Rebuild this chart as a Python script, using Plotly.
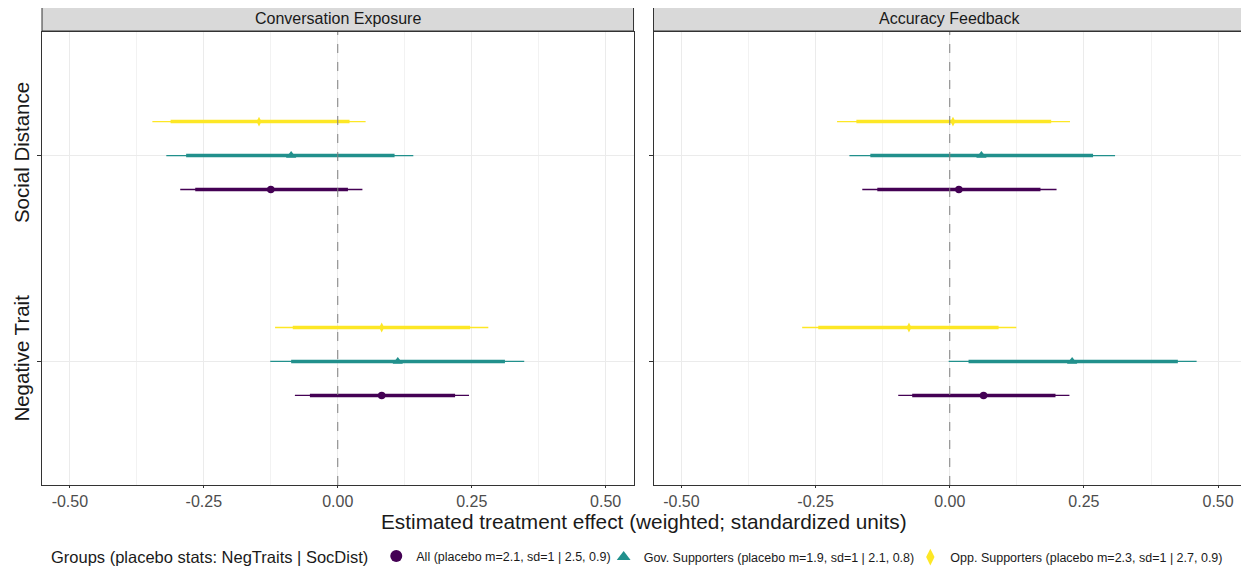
import plotly.graph_objects as go

# ---------------- data ----------------
outcomes = ["Social Distance", "Negative Trait"]
outcome_pos = [2, 1]
panels = ["Conversation Exposure", "Accuracy Feedback"]
group_names = [
    "All (placebo m=2.1, sd=1 | 2.5, 0.9)",
    "Gov. Supporters (placebo m=1.9, sd=1 | 2.1, 0.8)",
    "Opp. Supporters (placebo m=2.3, sd=1 | 2.7, 0.9)",
]
legend_title = "Groups (placebo stats: NegTraits | SocDist)"
group_colors = ["#440154", "#21908C", "#FDE725"]
group_symbols = ["circle", "triangle-up", "diamond-tall"]
group_sizes = [7.5, 9, 7]
group_offsets = [-0.165, 0.0, 0.165]

# Conversation Exposure: [Social Distance, Negative Trait] per group
conv_est = [[-0.125, 0.082], [-0.087, 0.112], [-0.147, 0.082]]
conv_lo_thick = [[-0.266, -0.052], [-0.283, -0.087], [-0.312, -0.084]]
conv_hi_thick = [[0.019, 0.219], [0.106, 0.312], [0.022, 0.247]]
conv_lo_thin = [[-0.294, -0.080], [-0.320, -0.126], [-0.346, -0.117]]
conv_hi_thin = [[0.046, 0.245], [0.141, 0.348], [0.052, 0.281]]

# Accuracy Feedback
acc_est = [[0.017, 0.063], [0.059, 0.228], [0.006, -0.076]]
acc_lo_thick = [[-0.135, -0.070], [-0.148, 0.035], [-0.174, -0.245]]
acc_hi_thick = [[0.169, 0.197], [0.267, 0.425], [0.189, 0.091]]
acc_lo_thin = [[-0.163, -0.096], [-0.187, -0.002], [-0.210, -0.275]]
acc_hi_thin = [[0.199, 0.223], [0.308, 0.460], [0.224, 0.124]]

x_ticks = [-0.5, -0.25, 0.0, 0.25, 0.5]
x_ticklabels = ["-0.50", "-0.25", "0.00", "0.25", "0.50"]

panel_data = [
    (conv_est, conv_lo_thick, conv_hi_thick, conv_lo_thin, conv_hi_thin),
    (acc_est, acc_lo_thick, acc_hi_thick, acc_lo_thin, acc_hi_thin),
]

FONT = "Liberation Sans, Arial, Helvetica, sans-serif"
legend_ids = ["legend", "legend2", "legend3"]
fig = go.Figure()

for p, (est, lo_k, hi_k, lo_n, hi_n) in enumerate(panel_data):
    xa = "x" if p == 0 else "x2"
    ya = "y" if p == 0 else "y2"
    for g in range(3):
        ys = [outcome_pos[o] + group_offsets[g] for o in range(len(outcomes))]
        # thin interval
        xs, yy = [], []
        for o in range(len(outcomes)):
            xs += [lo_n[g][o], hi_n[g][o], None]
            yy += [ys[o], ys[o], None]
        fig.add_trace(go.Scatter(x=xs, y=yy, mode="lines", xaxis=xa, yaxis=ya,
                                 line=dict(color=group_colors[g], width=1.3),
                                 showlegend=False, hoverinfo="skip"))
        # thick interval
        xs, yy = [], []
        for o in range(len(outcomes)):
            xs += [lo_k[g][o], hi_k[g][o], None]
            yy += [ys[o], ys[o], None]
        fig.add_trace(go.Scatter(x=xs, y=yy, mode="lines", xaxis=xa, yaxis=ya,
                                 line=dict(color=group_colors[g], width=3.4),
                                 showlegend=False, hoverinfo="skip"))
        # point estimate
        fig.add_trace(go.Scatter(x=est[g], y=ys, mode="markers", xaxis=xa, yaxis=ya,
                                 marker=dict(color=group_colors[g], symbol=group_symbols[g],
                                             size=group_sizes[g], line=dict(width=0)),
                                 name=group_names[g], showlegend=(p == 0),
                                 legend=legend_ids[g], legendgroup=group_names[g]))

axis_common = dict(
    range=[-0.552, 0.552],
    tickvals=x_ticks, ticktext=x_ticklabels,
    tickfont=dict(size=16, color="#4d4d4d", family=FONT),
    ticks="outside", ticklen=2, tickcolor="#333333",
    showgrid=True, gridcolor="#ebebeb", gridwidth=1,
    minor=dict(tickvals=[-0.375, -0.125, 0.125, 0.375], showgrid=True,
               gridcolor="#f2f2f2", gridwidth=0.6, ticks=""),
    zeroline=False, showline=True, linecolor="#333333", linewidth=1, mirror=True,
)
yaxis_common = dict(
    range=[0.4, 2.6],
    tickvals=outcome_pos, ticktext=outcomes,
    ticks="outside", ticklen=4, tickcolor="#333333",
    showgrid=True, gridcolor="#ebebeb", gridwidth=1,
    zeroline=False, showline=True, linecolor="#333333", linewidth=1, mirror=True,
)

leg_common = dict(orientation="h", xanchor="left", y=-0.160, yanchor="middle",
                  font=dict(size=12.5, color="#1a1a1a", family=FONT),
                  bgcolor="rgba(0,0,0,0)", borderwidth=0, itemsizing="constant")

fig.update_layout(
    width=1241, height=567,
    margin=dict(l=30, r=2, t=24, b=88),
    plot_bgcolor="white", paper_bgcolor="white",
    font=dict(family=FONT, color="#1a1a1a"),
    xaxis=dict(domain=[0, 0.4913], anchor="y", **axis_common),
    xaxis2=dict(domain=[0.5079, 1.0], anchor="y2", **axis_common),
    yaxis=dict(domain=[0, 1], anchor="x", tickangle=-90,
               tickfont=dict(size=20.5, color="#1a1a1a", family=FONT), **yaxis_common),
    yaxis2=dict(domain=[0, 1], anchor="x2", showticklabels=False, **yaxis_common),
    legend=dict(x=0.0058,
                title=dict(text=legend_title, side="left",
                           font=dict(size=16.5, color="#1a1a1a", family=FONT)),
                **leg_common),
    legend2=dict(x=0.4665, **leg_common),
    legend3=dict(x=0.7212, **leg_common),
)

shapes = []
annotations = []
for p, name in enumerate(panels):
    xd = "x domain" if p == 0 else "x2 domain"
    xr = "x" if p == 0 else "x2"
    yd = "y domain" if p == 0 else "y2 domain"
    # zero reference line
    shapes.append(dict(type="line", xref=xr, yref=yd, x0=0, x1=0, y0=0, y1=1,
                       line=dict(color="#7f7f7f", width=1, dash="dash"), layer="above"))
    # strip
    shapes.append(dict(type="rect", xref=xd, yref="paper", x0=0, x1=1, y0=1.0022, y1=1.057,
                       fillcolor="#d9d9d9", line=dict(color="#333333", width=1)))
    annotations.append(dict(text=name, xref=xd, yref="paper", x=0.5, y=1.0297,
                            showarrow=False, xanchor="center", yanchor="middle",
                            font=dict(size=16, color="#1a1a1a", family=FONT)))

annotations.append(dict(text="Estimated treatment effect (weighted; standardized units)",
                        xref="paper", yref="paper", x=0.5, y=-0.0795, showarrow=False,
                        xanchor="center", yanchor="middle",
                        font=dict(size=20.8, color="#1a1a1a", family=FONT)))
fig.update_layout(shapes=shapes, annotations=annotations)

fig.write_html("out.html")
